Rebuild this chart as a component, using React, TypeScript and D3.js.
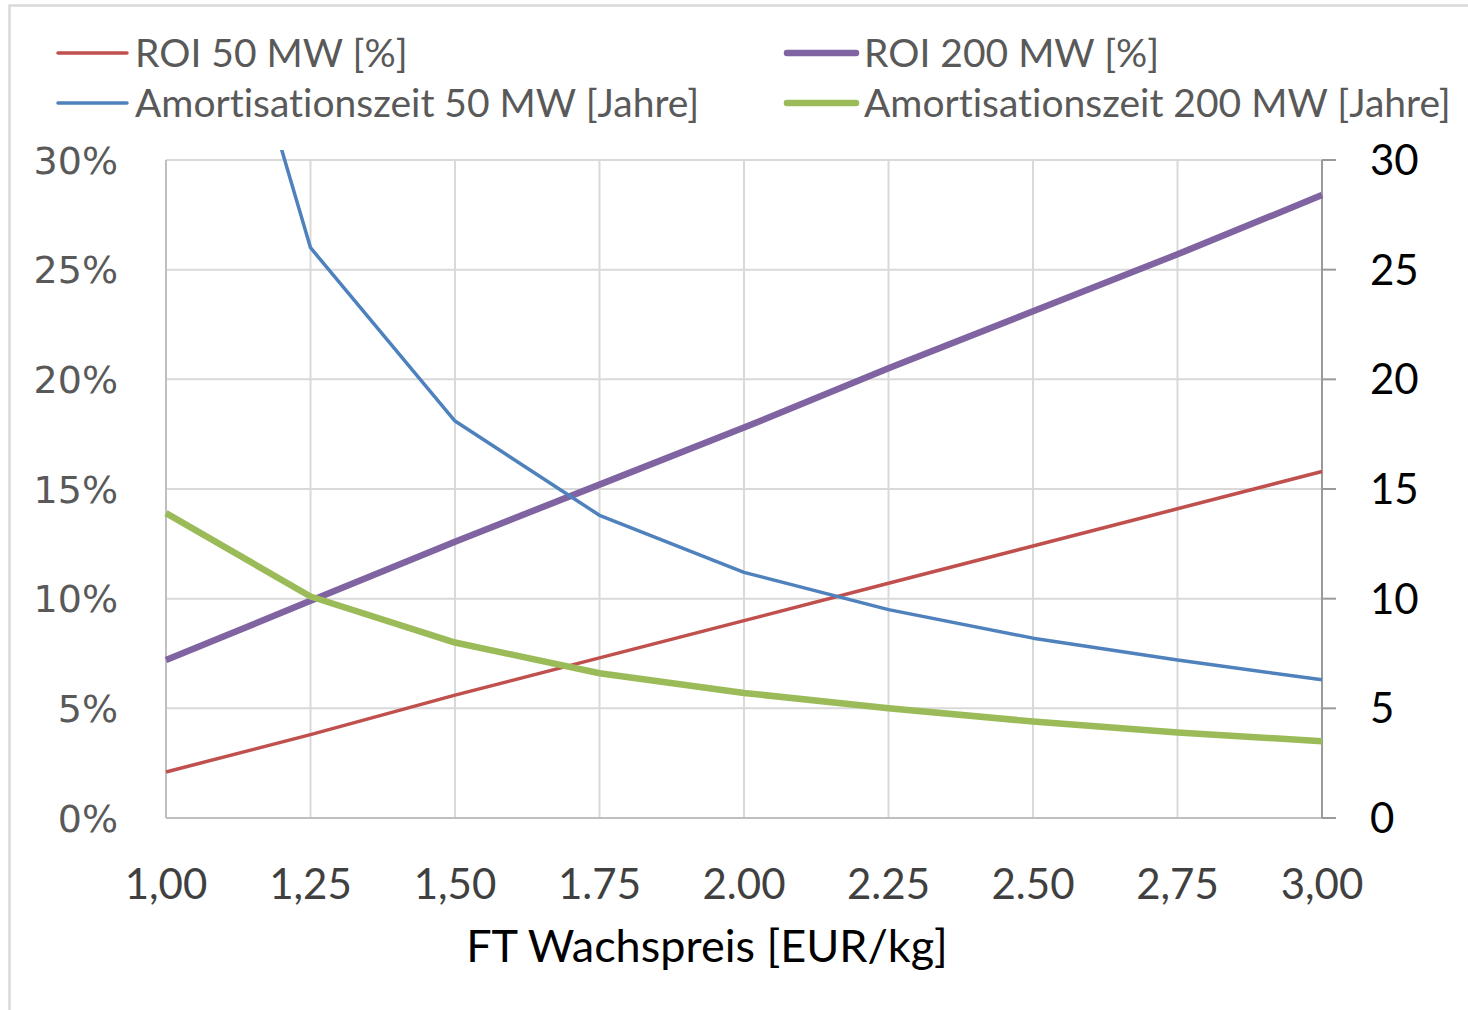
import React from "react";
import * as d3 from "d3";

const prices = [1.0, 1.25, 1.5, 1.75, 2.0, 2.25, 2.5, 2.75, 3.0];
const xTickLabels = ["1,00", "1,25", "1,50", "1.75", "2.00", "2.25", "2.50", "2,75", "3,00"];
const roi50 = [2.1, 3.8, 5.6, 7.3, 9.0, 10.7, 12.4, 14.1, 15.8];
const roi200 = [7.2, 9.9, 12.6, 15.2, 17.8, 20.5, 23.1, 25.7, 28.4];
const amort50 = [48.4, 26.0, 18.1, 13.8, 11.2, 9.5, 8.2, 7.2, 6.3];
const amort200 = [13.9, 10.1, 8.0, 6.6, 5.7, 5.0, 4.4, 3.9, 3.5];
const leftTicks = [0, 5, 10, 15, 20, 25, 30];
const rightTicks = [0, 5, 10, 15, 20, 25, 30];

const series = [
  { name: "ROI 50 MW [%]", values: roi50, color: "#C0504D", width: 3.5, axis: "left" },
  { name: "ROI 200 MW [%]", values: roi200, color: "#8064A2", width: 6.5, axis: "left" },
  { name: "Amortisationszeit 50 MW [Jahre]", values: amort50, color: "#4F81BD", width: 3.5, axis: "right" },
  { name: "Amortisationszeit 200 MW [Jahre]", values: amort200, color: "#9BBB59", width: 6.5, axis: "right" },
];

const W = 1468;
const H = 1010;
const left = 166;
const right = 1322;
const top = 160;
const bottom = 818;

const FONT = "Lato, 'Open Sans', sans-serif";
const noLig = { fontVariantLigatures: "none" as const, fontFeatureSettings: "'liga' 0, 'clig' 0" };

export default function App() {
  const x = d3.scaleLinear().domain([1, 3]).range([left, right]);
  const yL = d3.scaleLinear().domain([0, 30]).range([bottom, top]);
  const yR = d3.scaleLinear().domain([0, 30]).range([bottom, top]);

  const line = (vals: number[], sc: d3.ScaleLinear<number, number>) =>
    d3
      .line<number>()
      .x((_, i) => x(prices[i]))
      .y((v) => sc(v))(vals) || "";

  const legendPos = [
    { lx: 58, tx: 135, y: 53 },
    { lx: 787, tx: 864, y: 53 },
    { lx: 58, tx: 135, y: 103 },
    { lx: 787, tx: 864, y: 103 },
  ];

  return (
    <svg
      width={W}
      height={H}
      style={{ position: "absolute", left: 0, top: 0, background: "#fff" }}
    >
      <defs>
        <clipPath id="plotClip">
          <rect x={left - 10} y={150} width={right - left + 20} height={bottom - 150 + 10} />
        </clipPath>
      </defs>
      <rect x={9.5} y={5.5} width={3000} height={3000} fill="#fff" stroke="#d9d9d9" strokeWidth={2.5} />

      {leftTicks.map((t) => (
        <line key={"h" + t} x1={left} x2={right} y1={yL(t)} y2={yL(t)} stroke="#d9d9d9" strokeWidth={2} />
      ))}
      {prices.map((p) => (
        <line key={"v" + p} x1={x(p)} x2={x(p)} y1={top} y2={bottom} stroke="#d9d9d9" strokeWidth={2} />
      ))}
      <line x1={left} x2={left} y1={top} y2={bottom} stroke="#bfbfbf" strokeWidth={2} />
      <line x1={left} x2={right} y1={bottom} y2={bottom} stroke="#bfbfbf" strokeWidth={2} />
      <line x1={right} x2={right} y1={top} y2={bottom} stroke="#9a9a9a" strokeWidth={2} />
      {rightTicks.map((t) => (
        <line key={"rt" + t} x1={right} x2={right + 14} y1={yR(t)} y2={yR(t)} stroke="#9a9a9a" strokeWidth={2} />
      ))}

      {leftTicks.map((t) => (
        <text
          key={"lt" + t}
          x={118}
          y={yL(t)}
          dy="0.36em"
          textAnchor="end"
          fontFamily="'DejaVu Sans', Verdana, sans-serif"
          fontSize={38}
          fill="#595959"
        >
          {t + "%"}
        </text>
      ))}
      {rightTicks.map((t) => (
        <text
          key={"rl" + t}
          x={1370}
          y={yR(t)}
          dy="0.36em"
          textAnchor="start"
          fontFamily={FONT}
          fontSize={42}
          fill="#000"
        >
          {t}
        </text>
      ))}
      {prices.map((p, i) => (
        <text
          key={"xl" + p}
          x={x(p)}
          y={899}
          textAnchor="middle"
          fontFamily={FONT}
          fontSize={42}
          fill="#404040"
        >
          {xTickLabels[i]}
        </text>
      ))}
      <text x={707} y={962} textAnchor="middle" fontFamily={FONT} fontSize={45} fill="#000" style={noLig}>
        FT Wachspreis [EUR/kg]
      </text>

      <g clipPath="url(#plotClip)">
        {series.map((s) => (
          <path
            key={s.name}
            d={line(s.values, s.axis === "left" ? yL : yR)}
            fill="none"
            stroke={s.color}
            strokeWidth={s.width}
            strokeLinejoin="round"
          />
        ))}
      </g>

      {series.map((s, i) => (
        <g key={"lg" + s.name}>
          <line
            x1={legendPos[i].lx}
            x2={legendPos[i].lx + 69}
            y1={legendPos[i].y}
            y2={legendPos[i].y}
            stroke={s.color}
            strokeWidth={s.width}
            strokeLinecap="round"
          />
          <text
            x={legendPos[i].tx}
            y={legendPos[i].y}
            dy="0.36em"
            fontFamily={FONT}
            fontSize={39}
            fill="#595959"
            style={noLig}
          >
            {s.name}
          </text>
        </g>
      ))}
    </svg>
  );
}
